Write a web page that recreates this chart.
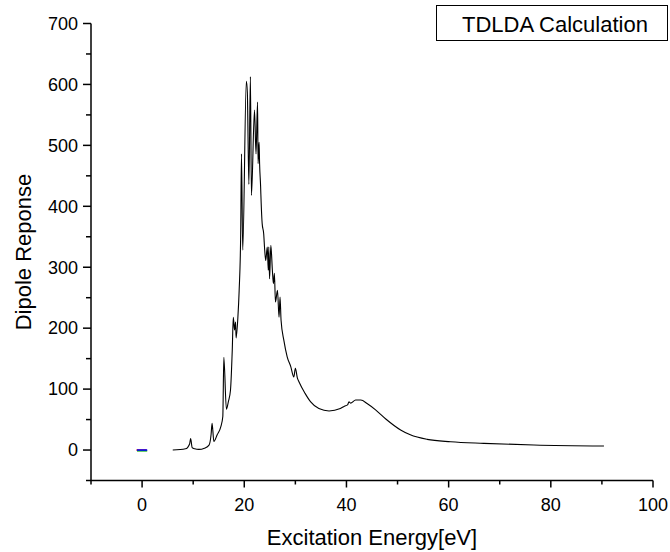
<!DOCTYPE html>
<html>
<head>
<meta charset="utf-8">
<script src="https://cdn.jsdelivr.net/npm/d3@7"></script>
<style>
  body { margin: 0; background: #fff; }
  text { font-family: "Liberation Sans", Arial, sans-serif; fill: #000; }
</style>
</head>
<body>
<div id="chart"></div>
<script>
// excitation energy (eV) and dipole response
const energy = [
  6.0, 8.5, 9.3, 9.5, 9.8, 10.3, 11.1, 12.2, 13.1, 13.5, 13.7, 14.05, 14.7,
  15.4, 15.8, 16.0, 16.5, 16.9, 17.3, 17.65, 17.85, 18.1, 18.3, 18.4, 18.75,
  19.0, 19.3, 19.45, 19.7, 20.4, 20.6, 20.9, 21.2, 21.4, 22.0, 22.3, 22.6,
  22.7, 22.9, 23.0, 23.2, 23.3, 23.5, 23.8, 24.0, 24.2, 24.5, 24.7, 24.8,
  24.95, 25.2, 25.5, 25.7, 25.9, 26.1, 26.5, 26.8, 27.0, 27.2, 27.75, 28.4,
  29.1, 29.7, 30.0, 30.4, 30.7, 31.9, 33.0, 34.6, 36.6, 38.8, 39.6, 40.2,
  40.5, 40.8, 41.8, 42.8, 44.1, 45.7, 47.7, 50.6, 52.5, 55.8, 60.4, 66.9,
  76.7, 90.4
];
const response = [
  0, 2, 10, 19, 4, 2, 1, 3, 8, 25, 44, 14, 25,
  38, 55, 152, 67, 80, 98, 164, 218, 197, 210, 184, 218,
  262, 355, 486, 328, 605, 587, 436, 613, 418, 558, 486, 571,
  470, 505, 470, 432, 407, 372, 355, 328, 311, 333, 295, 333,
  281, 336, 295, 273, 290, 243, 262, 218, 251, 213, 180, 153,
  137, 120, 134, 118, 112, 93, 79, 68, 64, 68, 72, 74,
  79, 77, 82, 82, 76, 66, 51, 33, 25, 17.5, 13.6, 11,
  8.2, 6.6
];

// short near-zero traces drawn in colour around x = 0
const markerSeries = ["#e00000", "#00b000", "#0000ff"];
const markerEnergy = [-1.0, 1.0];
const markerResponse = [0, 0];

const xTicks = [0, 20, 40, 60, 80, 100];
const yTicks = [0, 100, 200, 300, 400, 500, 600, 700];
const xMinor = [-10, 10, 30, 50, 70, 90];
const yMinor = [-50, 50, 150, 250, 350, 450, 550, 650];

const width = 670,
  height = 552;
const margin = { top: 23.5, right: 17, bottom: 71.5, left: 91 };

const svg = d3
  .select("#chart")
  .append("svg")
  .attr("width", width)
  .attr("height", height);

const x = d3
  .scaleLinear()
  .domain([-10, 100])
  .range([margin.left, width - margin.right]);

const y = d3
  .scaleLinear()
  .domain([-50, 700])
  .range([height - margin.bottom, margin.top]);

// axis lines
const axisG = svg.append("g").attr("stroke", "#000").attr("stroke-width", 1.5);
axisG
  .append("line")
  .attr("x1", x(-10))
  .attr("x2", x(100))
  .attr("y1", y(-50))
  .attr("y2", y(-50));
axisG
  .append("line")
  .attr("x1", x(-10))
  .attr("x2", x(-10))
  .attr("y1", y(-50))
  .attr("y2", y(700));

// x ticks
axisG
  .selectAll(".xmaj")
  .data(xTicks)
  .enter()
  .append("line")
  .attr("x1", (d) => x(d))
  .attr("x2", (d) => x(d))
  .attr("y1", y(-50))
  .attr("y2", y(-50) + 7);
axisG
  .selectAll(".xmin")
  .data(xMinor)
  .enter()
  .append("line")
  .attr("x1", (d) => x(d))
  .attr("x2", (d) => x(d))
  .attr("y1", y(-50))
  .attr("y2", y(-50) + 4);

// y ticks
axisG
  .selectAll(".ymaj")
  .data(yTicks)
  .enter()
  .append("line")
  .attr("x1", x(-10) - 8)
  .attr("x2", x(-10))
  .attr("y1", (d) => y(d))
  .attr("y2", (d) => y(d));
axisG
  .selectAll(".ymin")
  .data(yMinor)
  .enter()
  .append("line")
  .attr("x1", x(-10) - 5)
  .attr("x2", x(-10))
  .attr("y1", (d) => y(d))
  .attr("y2", (d) => y(d));

// tick labels
svg
  .selectAll(".xlab")
  .data(xTicks)
  .enter()
  .append("text")
  .attr("x", (d) => x(d))
  .attr("y", y(-50) + 30)
  .attr("text-anchor", "middle")
  .style("font-size", "18px")
  .text((d) => d);

svg
  .selectAll(".ylab")
  .data(yTicks)
  .enter()
  .append("text")
  .attr("x", x(-10) - 13)
  .attr("y", (d) => y(d))
  .attr("dy", "0.35em")
  .attr("text-anchor", "end")
  .style("font-size", "18px")
  .text((d) => d);

// axis titles
svg
  .append("text")
  .attr("x", (x(-10) + x(100)) / 2)
  .attr("y", 545)
  .attr("text-anchor", "middle")
  .style("font-size", "22px")
  .text("Excitation Energy[eV]");

svg
  .append("text")
  .attr("transform", "translate(31," + (y(-50) + y(700)) / 2 + ") rotate(-90)")
  .attr("text-anchor", "middle")
  .style("font-size", "22px")
  .text("Dipole Reponse");

// coloured markers near zero
const markerLine = d3
  .line()
  .x((d) => x(d[0]))
  .y((d) => y(d[1]));
markerSeries.forEach((color, i) => {
  svg
    .append("path")
    .datum(markerEnergy.map((e, j) => [e, markerResponse[j]]))
    .attr("d", markerLine)
    .attr("transform", "translate(" + (i === 0 ? -0.5 : 0) + "," + (i === 1 ? 0.8 : 0) + ")")
    .attr("fill", "none")
    .attr("stroke", color)
    .attr("stroke-width", 1.5);
});

// main spectrum
const line = d3
  .line()
  .x((d, i) => x(energy[i]))
  .y((d) => y(d))
  .curve(d3.curveMonotoneX);

svg
  .append("path")
  .datum(response)
  .attr("d", line)
  .attr("fill", "none")
  .attr("stroke", "#000")
  .attr("stroke-width", 1.1);

// legend box
const legend = svg.append("g");
legend
  .append("rect")
  .attr("x", 436.5)
  .attr("y", 5.5)
  .attr("width", 231)
  .attr("height", 35)
  .attr("fill", "#fff")
  .attr("stroke", "#000")
  .attr("stroke-width", 1);
legend
  .append("text")
  .attr("x", 462)
  .attr("y", 31.5)
  .style("font-size", "22px")
  .text("TDLDA Calculation");
</script>
</body>
</html>
